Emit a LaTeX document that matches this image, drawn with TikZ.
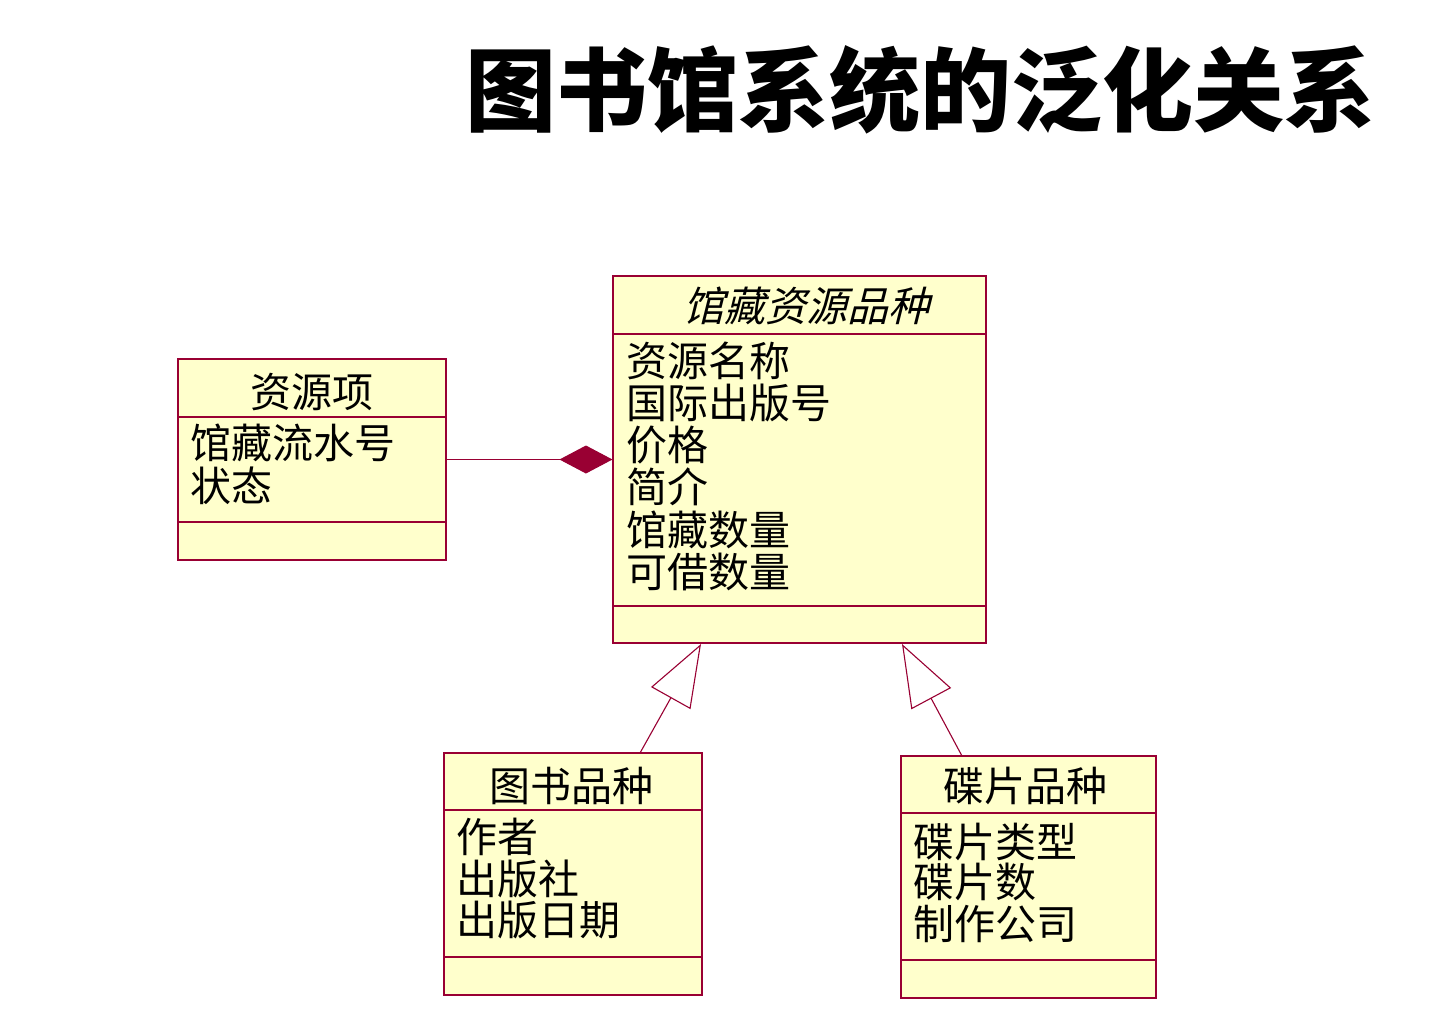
\documentclass[tikz,border=0pt]{standalone}
\usepackage{fontspec}
\newfontfamily\cjk{Noto Sans CJK SC}
\newfontfamily\cjkit[FakeSlant=0.25]{Noto Sans CJK SC}
\usetikzlibrary{arrows.meta}
\definecolor{umlline}{RGB}{153,0,51}
\definecolor{umlfill}{RGB}{255,255,204}
\begin{document}
\begin{tikzpicture}[x=1pt,y=-1pt,
  classbox/.style={draw=umlline, fill=umlfill, line width=1.1pt, inner sep=0pt},
  sepline/.style={draw=umlline, line width=1.1pt},
  conn/.style={draw=umlline, line width=1.1pt},
  txt/.style={font=\cjk\fontsize{41}{41}\selectfont, inner sep=0pt, text height=36pt, text depth=5pt},
  itxt/.style={font=\cjkit\fontsize{41}{41}\selectfont, inner sep=0pt, text height=36pt, text depth=5pt},
  titletxt/.style={font=\cjk\bfseries\fontsize{91}{91}\selectfont, inner sep=0pt}]
\path[use as bounding box, fill=white] (0,0) rectangle (1434,1034);

\node[titletxt] (title) at (920,90) {图书馆系统的泛化关系};

% class A
\node[classbox, minimum width=268pt, minimum height=201pt] (A) at (312,459.5) {};
\draw[sepline] (178,417) -- (446,417);
\draw[sepline] (178,522) -- (446,522);
\node[txt] (Ah) at (312,392) {资源项};
\node[txt, anchor=west] (A1) at (190,443) {馆藏流水号};
\node[txt, anchor=west] (A2) at (190,486) {状态};

% class B
\node[classbox, minimum width=373pt, minimum height=367pt] (B) at (799.5,459.5) {};
\draw[sepline] (613,334) -- (986,334);
\draw[sepline] (613,606) -- (986,606);
\node[itxt] (Bh) at (806,306) {馆藏资源品种};
\node[txt, anchor=west] (B1) at (626,361) {资源名称};
\node[txt, anchor=west] (B2) at (626,403) {国际出版号};
\node[txt, anchor=west] (B3) at (626,445) {价格};
\node[txt, anchor=west] (B4) at (626,487) {简介};
\node[txt, anchor=west] (B5) at (626,530) {馆藏数量};
\node[txt, anchor=west] (B6) at (626,572) {可借数量};

% class C
\node[classbox, minimum width=258pt, minimum height=242pt] (C) at (573,874) {};
\draw[sepline] (444,810) -- (702,810);
\draw[sepline] (444,957) -- (702,957);
\node[txt] (Ch) at (571,786) {图书品种};
\node[txt, anchor=west] (C1) at (456,837) {作者};
\node[txt, anchor=west] (C2) at (456,879) {出版社};
\node[txt, anchor=west] (C3) at (456,920) {出版日期};

% class D
\node[classbox, minimum width=255pt, minimum height=242pt] (D) at (1028.5,877) {};
\draw[sepline] (901,813) -- (1156,813);
\draw[sepline] (901,960) -- (1156,960);
\node[txt] (Dh) at (1025,786) {碟片品种};
\node[txt, anchor=west] (D1) at (913,842) {碟片类型};
\node[txt, anchor=west] (D2) at (913,882) {碟片数};
\node[txt, anchor=west] (D3) at (913,924) {制作公司};

% connectors
\draw[conn, -{Diamond[length=53pt,width=28pt,fill=umlline]}] (A.east) -- (B.west);
\coordinate (ctop) at (640,753);
\coordinate (bl) at (701,644);
\coordinate (dtop) at (962,756);
\coordinate (br) at (902,644);
\draw[conn, -{Triangle[open,length=62pt,width=45pt,fill=white]}] (ctop) -- (bl);
\draw[conn, -{Triangle[open,length=62pt,width=45pt,fill=white]}] (dtop) -- (br);
\end{tikzpicture}
\end{document}
